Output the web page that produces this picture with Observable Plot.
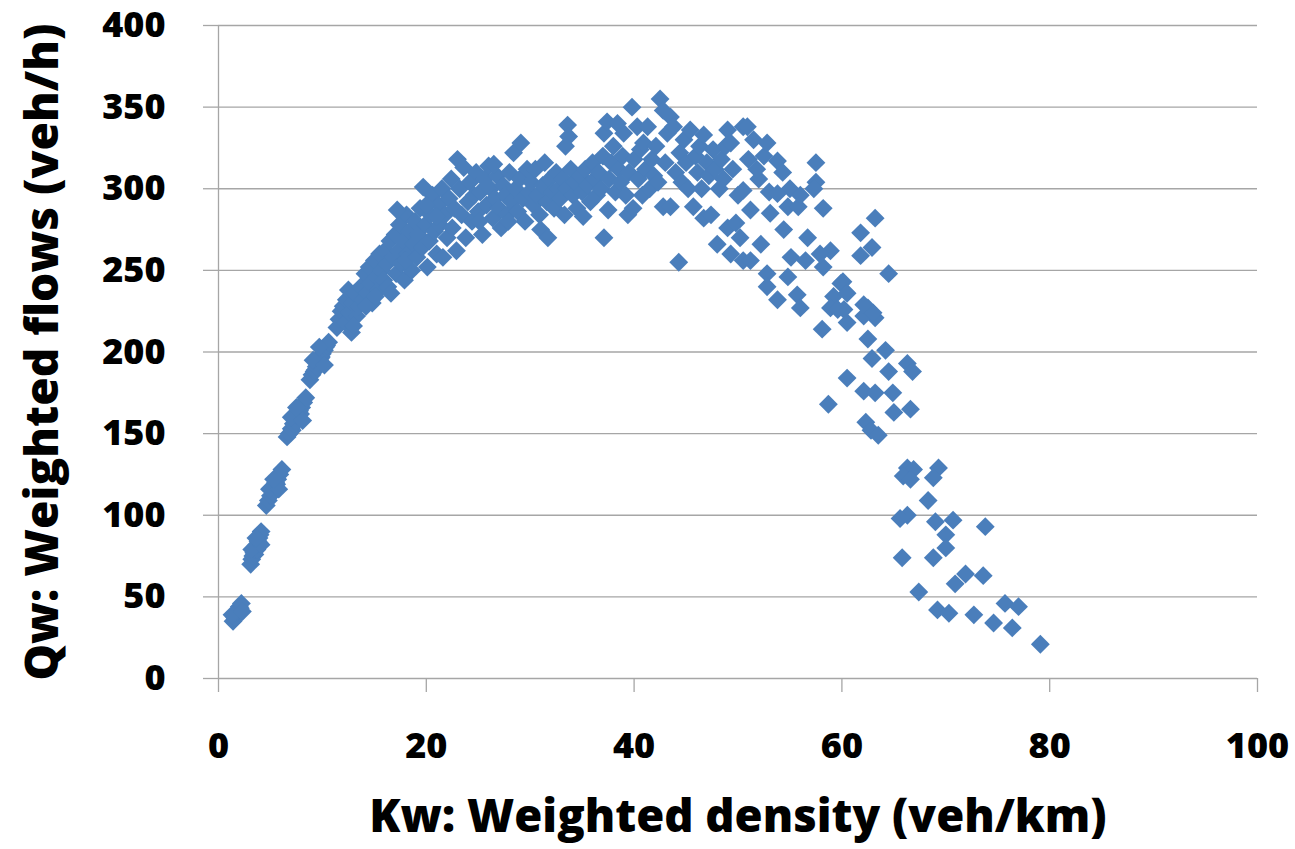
<!DOCTYPE html>
<html>
<head>
<meta charset="utf-8">
<script src="https://cdn.jsdelivr.net/npm/d3@7"></script>
<script src="https://cdn.jsdelivr.net/npm/@observablehq/plot@0.6"></script>
<style>
  body { margin: 0; background: #fff; }
  svg { display: block; }
</style>
</head>
<body>
<div id="chart"></div>
<script>
const xTicks = [0, 20, 40, 60, 80, 100];
const yTicks = [0, 50, 100, 150, 200, 250, 300, 350, 400];
const xTitle = "Kw: Weighted density (veh/km)";
const yTitle = "Qw: Weighted flows (veh/h)";

// [density, flow]
const lowBranch = [
  [1.4,35],[1.5,38],[1.6,37],[1.7,40],[1.8,41],[1.9,42],[2.0,44],[2.1,43],[2.2,46],[1.3,39],[2.3,41],
  [3.1,70],[3.2,73],[3.3,75],[3.4,77],[3.5,76],[3.5,79],[3.6,80],[3.7,79],[3.7,82],[3.8,84],[3.9,83],[3.9,86],[4.0,88],[4.1,90],[3.2,79],[4.1,82],[3.6,86],
  [4.6,106],[4.8,109],[5.0,112],[5.2,115],[5.3,114],[5.4,118],[5.5,120],[5.6,119],[5.7,122],[5.9,125],[6.1,128],[4.9,116],[5.8,116],[5.3,122],
  [6.6,148],[6.8,150],[7.0,153],[7.1,152],[7.2,156],[7.4,158],[7.5,157],[7.6,161],[7.8,164],[7.9,162],[8.0,166],[8.2,169],[8.4,172],[7.0,160],[8.1,158],[7.5,166],
  [8.8,183],[9.0,186],[9.2,188],[9.3,189],[9.4,191],[9.6,194],[9.8,196],[9.9,197],[10.0,199],[10.2,201],[10.3,203],[10.4,204],[10.6,206],[9.1,195],[10.2,192],[9.7,203]
];

const risingBand = [
  [11.4,215],[11.6,220],[11.8,225],[12.0,228],[12.2,218],[12.3,232],[12.5,238],[12.6,224],[12.8,212],[12.9,230],[13.1,236],[13.3,222],[13.5,228],[13.0,216],
  [13.7,240],[13.9,232],[14.1,248],[14.3,236],[14.5,252],[14.6,242],[14.8,230],[15.0,256],[15.2,246],[15.4,238],[15.5,260],[15.7,250],[15.9,244],[16.0,262],[14.2,228],[15.1,234],
  [16.2,254],[16.3,240],[16.5,268],[16.6,236],[16.8,258],[17.0,272],[17.1,248],[17.3,262],[17.4,278],[17.6,254],[17.8,268],[17.9,244],[18.1,284],[18.2,260],[18.4,274],[18.6,250],[18.8,266],[18.9,280],[17.2,287],[18.0,256],
  [19.1,258],[19.2,272],[19.4,288],[19.6,264],[19.7,301],[19.9,278],[20.1,252],[20.3,268],[20.4,284],[20.6,296],[20.8,274],[21.0,260],[21.2,290],[21.3,278],[21.5,300],[21.6,258],[21.8,284],[22.0,270],[22.2,294],[22.4,306],[22.5,276],[22.7,288],[22.9,262],[23.0,318],[23.2,300],[23.4,284],[23.6,313],[23.8,270],[20.0,290],[21.0,283]
];

const plateau = [
  [24.0,292],[24.2,304],[24.4,280],[24.6,296],[24.8,310],[25.0,286],[25.2,298],[25.4,272],[25.6,306],[25.8,290],[26.0,314],[26.2,300],[26.4,282],[26.6,294],[26.8,308],[27.0,288],[27.2,276],[27.4,302],[27.6,296],[27.8,284],[28.0,310],[28.2,292],[28.4,322],[28.6,300],[28.8,286],[29.0,306],[29.1,328],[29.3,294],[29.5,280],[29.7,312],[29.9,298],[26.5,315],[27.9,280],[25.1,280],
  [30.1,304],[30.3,290],[30.5,312],[30.7,296],[30.9,284],[31.0,275],[31.2,302],[31.4,316],[31.6,292],[31.7,270],[31.9,306],[32.1,298],[32.3,288],[32.5,310],[32.7,300],[32.9,294],[33.1,306],[33.3,284],[33.5,300],[33.6,339],[33.7,332],[33.4,326],[33.9,312],[34.1,296],[34.3,304],[34.5,288],[34.8,308],[35.0,298],[35.1,283],[35.3,312],[35.5,302],[35.8,292],[36.0,316],[36.2,306],
  [36.4,296],[36.6,310],[36.8,300],[37.0,320],[37.1,334],[37.1,270],[37.4,341],[37.5,287],[37.6,306],[37.8,316],[38.0,326],[38.2,298],[38.4,340],[38.5,312],[38.7,304],[38.9,320],[39.0,334],[39.2,296],[39.4,284],[39.5,310],[39.8,350],[39.9,288],[40.0,318],[40.3,338],[40.4,306],[40.6,324],[40.8,296],[40.9,328],[41.1,312],[41.3,338],[41.5,300],[41.7,318],[41.9,308],[42.1,326],[42.3,304],[42.5,355],[42.8,348],[42.8,289]
];

const peak = [
  [43.0,316],[43.2,334],[43.5,344],[43.5,289],[43.8,338],[44.0,310],[44.3,255],[44.4,322],[44.6,304],[44.8,330],[45.0,316],[45.2,300],[45.4,336],[45.7,289],[45.9,320],[46.1,310],[46.3,326],[46.5,300],[46.7,333],[46.7,282],[47.0,316],[47.2,308],[47.4,284],[47.6,324],[47.8,312],[48.0,266],[48.2,300],[48.4,318],[48.6,306],[48.8,326],[49.0,336],[49.0,276],[49.3,328],[49.3,260],[49.5,312],[49.8,279],[50.0,296],[50.2,270],[50.5,338],[50.5,256],[50.5,299],[50.9,338],
  [51.5,330],[52.5,320],[52.8,328],[53.8,317],[54.3,310],[51.0,318],[52.0,306],[53.0,298],[51.8,312],[55.0,300],[56.0,296]
];

const fallingBranch = [
  [57.5,316],[57.5,304],[57.3,300],[58.2,288],[63.2,282],[61.8,273],[62.9,264],[61.8,259],[64.5,248],
  [51.2,287],[53.8,297],[54.8,289],[55.8,289],[53.1,285],[54.4,275],[56.7,270],[52.2,266],[51.2,256],[55.1,258],[56.5,256],[58.2,252],[58.9,262],[57.9,260],
  [52.8,248],[52.8,240],[54.8,246],[53.8,232],[55.7,235],[56.0,227],[59.9,242],[59.2,234],[60.2,226],[60.5,218],[58.9,227],[62.5,227],[63.2,221],[62.1,222],[58.1,214],[62.5,208],
  [60.1,243],[60.5,236],[59.6,226],[63.0,224],[62.1,229],[64.2,201],[62.9,196],[66.3,193],[66.8,188],[64.5,188],[60.5,184],[62.1,176],[63.2,175],[64.9,175],[58.7,168],[65.0,163],[66.6,165],[62.3,157],[62.8,152],[63.5,149]
];

const tail = [
  [66.3,129],[66.9,128],[65.9,124],[66.6,122],[69.3,129],[68.8,123],[68.3,109],[66.3,100],[65.6,98],[69.0,96],[70.7,97],[73.8,93],[70.0,88],
  [65.8,74],[68.8,74],[70.0,80],[71.9,64],[70.9,58],[73.6,63],[67.4,53],[69.2,42],[70.3,40],[72.7,39],[75.7,46],[77.0,44],[74.6,34],[76.4,31],[79.1,21]
];

const data = [...lowBranch, ...risingBand, ...plateau, ...peak, ...fallingBranch, ...tail]
  .map(([k, q]) => ({k, q}));

const font = "'Open Sans', Lato, sans-serif";
const gridColor = "#a6a6a6";

const chart = Plot.plot({
  width: 1295,
  height: 849,
  marginLeft: 218,
  marginRight: 38,
  marginTop: 25,
  marginBottom: 171,
  style: {fontFamily: font, fontWeight: "800", background: "#fff", color: "#000"},
  x: {domain: [0, 100]},
  y: {domain: [0, 400]},
  marks: [
    Plot.gridY(yTicks, {stroke: gridColor, strokeOpacity: 1, strokeWidth: 1.3}),
    Plot.ruleX([0], {stroke: gridColor, strokeWidth: 1.3}),
    Plot.axisY(yTicks, {tickSize: 15, tickPadding: 38, stroke: gridColor, strokeWidth: 1.3, fill: "#000", fontSize: 36, fontWeight: "800", label: null}),
    Plot.axisX(xTicks, {tickSize: 14, tickPadding: 40, stroke: gridColor, strokeWidth: 1.3, fill: "#000", fontSize: 36, fontWeight: "800", label: null}),
    Plot.dot(data, {x: "k", y: "q", symbol: "diamond2", r: 8.5, fill: "#4a7ebb", stroke: "none"}),
    Plot.text([xTitle], {text: d => d, frameAnchor: "bottom", textAnchor: "middle", lineAnchor: "middle", dy: 139, fontSize: 45.5, fontWeight: "800", fill: "#000"}),
    Plot.text([yTitle], {text: d => d, frameAnchor: "left", textAnchor: "middle", lineAnchor: "middle", dx: -175, rotate: -90, fontSize: 46, fontWeight: "800", fill: "#000"})
  ]
});
document.getElementById("chart").appendChild(chart);
</script>
</body>
</html>
